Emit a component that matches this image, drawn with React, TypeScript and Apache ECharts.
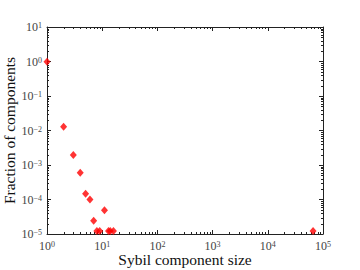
import React, { useEffect, useRef } from "react";
import * as echarts from "echarts";

const componentSizes = [1, 2, 3, 4, 5, 6, 7, 8, 9, 11, 13, 14, 16, 66000];
const fractions = [
  0.98, 0.0129, 0.00195, 6.0e-4, 1.47e-4, 1.0e-4, 2.44e-5, 1.22e-5, 1.22e-5,
  4.9e-5, 1.22e-5, 1.22e-5, 1.22e-5, 1.22e-5,
];
const xRange = [1, 1e5];
const yRange = [1e-5, 10];
const xLabel = "Sybil component size";
const yLabel = "Fraction of components";

const FONT = "'Liberation Serif', 'DejaVu Serif', serif";

function expLabel(v: number) {
  const e = Math.round(Math.log10(v));
  const s = e < 0 ? "\u2212" + String(-e) : String(e);
  return `{b|10}{s|${s}}`;
}

const rich = {
  b: { fontSize: 12, fontFamily: FONT, color: "#444", lineHeight: 11 },
  s: { fontSize: 8, fontFamily: FONT, color: "#444", lineHeight: 5, padding: [0, 0, 6, 0], verticalAlign: "top" },
};

export default function App() {
  const ref = useRef<HTMLDivElement>(null);
  useEffect(() => {
    if (!ref.current) return;
    const chart = echarts.init(ref.current, null, { renderer: "svg" });
    const axisLine = { show: true, lineStyle: { color: "#222", width: 1 } };
    const tick = { show: true, inside: true, length: 4, lineStyle: { color: "#222" } };
    const data = componentSizes.map((x, i) => [x, fractions[i]]);
    chart.setOption({
      animation: false,
      grid: { left: 47, right: 37, top: 27, bottom: 36, containLabel: false, outerBoundsMode: "none" },
      xAxis: [
        {
          type: "log",
          logBase: 10,
          min: xRange[0],
          max: xRange[1],
          splitNumber: 5,
          position: "bottom",
          axisLine,
          axisTick: tick,
          splitLine: { show: false },
          axisLabel: { formatter: expLabel, rich, margin: 6, color: "#444" },
          name: xLabel,
          nameLocation: "middle",
          nameGap: 18,
          nameMoveOverlap: false,
          nameTextStyle: { fontSize: 15.5, fontFamily: FONT, color: "#111", lineHeight: 15 },
        },
        {
          type: "log",
          logBase: 10,
          min: xRange[0],
          max: xRange[1],
          splitNumber: 5,
          position: "top",
          axisLine,
          axisTick: tick,
          splitLine: { show: false },
          axisLabel: { show: false },
        },
      ],
      yAxis: [
        {
          type: "log",
          logBase: 10,
          min: yRange[0],
          max: yRange[1],
          splitNumber: 6,
          position: "left",
          axisLine,
          axisTick: tick,
          splitLine: { show: false },
          axisLabel: { formatter: expLabel, rich, margin: 5, color: "#444" },
          name: yLabel,
          nameLocation: "middle",
          nameGap: 30,
          nameMoveOverlap: false,
          nameTextStyle: { fontSize: 15.5, fontFamily: FONT, color: "#111" },
        },
        {
          type: "log",
          logBase: 10,
          min: yRange[0],
          max: yRange[1],
          splitNumber: 6,
          position: "right",
          axisLine,
          axisTick: tick,
          splitLine: { show: false },
          axisLabel: { show: false },
        },
      ],
      series: [
        {
          type: "custom",
          xAxisIndex: 0,
          yAxisIndex: 0,
          silent: true,
          clip: false,
          data: [[1, 1]],
          renderItem: (params: any, api: any) => {
            const cs = params.coordSys;
            const children: any[] = [];
            const style = { stroke: "#222", lineWidth: 1 };
            const L = 2;
            for (let d = 0; d < 5; d++) {
              for (let m = 2; m <= 9; m++) {
                const v = m * Math.pow(10, d);
                const px = Math.round(api.coord([v, yRange[0]])[0]) + 0.5;
                children.push({ type: "line", shape: { x1: px, y1: cs.y + cs.height, x2: px, y2: cs.y + cs.height - L }, style });
                children.push({ type: "line", shape: { x1: px, y1: cs.y, x2: px, y2: cs.y + L }, style });
              }
            }
            for (let d = -5; d < 1; d++) {
              for (let m = 2; m <= 9; m++) {
                const v = m * Math.pow(10, d);
                const py = Math.round(api.coord([xRange[0], v])[1]) + 0.5;
                children.push({ type: "line", shape: { x1: cs.x, y1: py, x2: cs.x + L, y2: py }, style });
                children.push({ type: "line", shape: { x1: cs.x + cs.width, y1: py, x2: cs.x + cs.width - L, y2: py }, style });
              }
            }
            return { type: "group", children };
          },
        },
        {
          type: "scatter",
          xAxisIndex: 0,
          yAxisIndex: 0,
          symbol: "diamond",
          symbolSize: [7, 8],
          itemStyle: { color: "#ff0000" },
          clip: true,
          data,
        },
      ],
    });
    return () => chart.dispose();
  }, []);
  return (
    <div
      ref={ref}
      style={{ position: "fixed", left: 0, top: 0, width: 360, height: 270, background: "#fff" }}
    />
  );
}
